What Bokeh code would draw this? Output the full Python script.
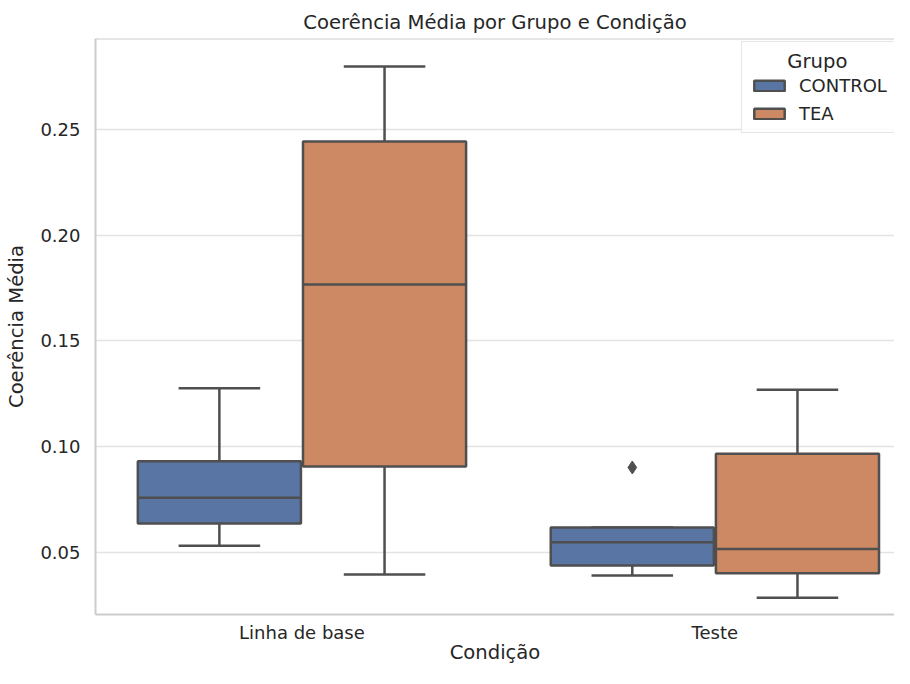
from bokeh.plotting import figure
from bokeh.models import (ColumnDataSource, FixedTicker, Range1d, Span,
                          NumeralTickFormatter, Legend, LegendItem)
from bokeh.embed import file_html
from bokeh.resources import INLINE

# ---- data ----
conditions = ["Linha de base", "Teste"]
groups = ["CONTROL", "TEA"]
colors = ["#5975A4", "#CC8963"]

whisker_low = {"CONTROL": [0.0532, 0.0391], "TEA": [0.0396, 0.0286]}
q1 = {"CONTROL": [0.0637, 0.0439], "TEA": [0.0907, 0.0402]}
median = {"CONTROL": [0.0759, 0.0549], "TEA": [0.1767, 0.0517]}
q3 = {"CONTROL": [0.0932, 0.0618], "TEA": [0.2443, 0.0967]}
whisker_high = {"CONTROL": [0.1277, 0.0618], "TEA": [0.2798, 0.1270]}
outlier_cond = ["Teste"]
outlier_group = ["CONTROL"]
outlier_val = [0.0902]

y_ticks = [0.05, 0.10, 0.15, 0.20, 0.25]

FONT = "DejaVu Sans"
TXT = "#262626"
EDGE = "#4f4f4f"
SPINE = "#cccccc"

y_start, y_end = 0.0207, 0.293

p = figure(width=894, height=668, output_backend="svg", toolbar_location=None,
           x_range=Range1d(-0.5, 1.435), y_range=Range1d(y_start, y_end),
           min_border_left=95, min_border_right=0, min_border_top=38,
           min_border_bottom=54)
p.title.text = "Coerência Média por Grupo e Condição"
p.title.align = "center"
p.title.offset = 13
p.title.text_font = FONT
p.title.text_font_size = "19.6px"
p.title.text_font_style = "normal"
p.title.text_color = TXT
p.title.standoff = 10

p.outline_line_color = None
p.xgrid.grid_line_color = None
p.ygrid.grid_line_color = "#e3e3e3"
p.ygrid.grid_line_width = 1.5
p.ygrid.ticker = FixedTicker(ticks=y_ticks)

# axes
p.yaxis.ticker = FixedTicker(ticks=y_ticks)
p.yaxis.formatter = NumeralTickFormatter(format="0.00")
p.xaxis.ticker = FixedTicker(ticks=list(range(len(conditions))))
p.xaxis.major_label_overrides = {i: c for i, c in enumerate(conditions)}
p.xaxis.axis_label = "Condição"
p.yaxis.axis_label = "Coerência Média"
for ax in (p.xaxis[0], p.yaxis[0]):
    ax.axis_line_color = SPINE
    ax.axis_line_width = 2
    ax.major_tick_line_color = None
    ax.minor_tick_line_color = None
    ax.major_tick_out = 0
    ax.major_tick_in = 0
    ax.minor_tick_out = 0
    ax.major_label_text_font = FONT
    ax.major_label_text_font_size = "18px"
    ax.major_label_text_color = TXT
    ax.axis_label_text_font = FONT
    ax.axis_label_text_font_size = "19.6px"
    ax.axis_label_text_font_style = "normal"
    ax.axis_label_text_color = TXT
p.xaxis.major_label_standoff = 7
p.xaxis.axis_label_standoff = -5
p.yaxis.major_label_standoff = 15
p.yaxis.axis_label_standoff = 9

# top spine
p.add_layout(Span(location=y_end, dimension="width", line_color=SPINE, line_width=2))

# ---- boxes ----
box_w = 0.395
offsets = [-0.2, 0.2]
items = []
for gi, g in enumerate(groups):
    xs = [i + offsets[gi] for i in range(len(conditions))]
    src = ColumnDataSource(dict(
        x=xs, x0=[x - box_w / 2 for x in xs], x1=[x + box_w / 2 for x in xs],
        c0=[x - box_w / 4 for x in xs], c1=[x + box_w / 4 for x in xs],
        lo=whisker_low[g], q1=q1[g], med=median[g], q3=q3[g], hi=whisker_high[g]))
    p.segment(x0="x", x1="x", y0="lo", y1="q1", source=src, line_color=EDGE, line_width=2.5)
    p.segment(x0="x", x1="x", y0="q3", y1="hi", source=src, line_color=EDGE, line_width=2.5)
    p.segment(x0="c0", x1="c1", y0="lo", y1="lo", source=src, line_color=EDGE, line_width=2.5)
    p.segment(x0="c0", x1="c1", y0="hi", y1="hi", source=src, line_color=EDGE, line_width=2.5)
    r = p.vbar(x="x", width=box_w, bottom="q1", top="q3", source=src,
               fill_color=colors[gi], line_color=EDGE, line_width=2.5)
    p.segment(x0="x0", x1="x1", y0="med", y1="med", source=src, line_color=EDGE, line_width=2.5)
    items.append(LegendItem(label=g, renderers=[r]))

ox = [conditions.index(c) + offsets[groups.index(g)] for c, g in zip(outlier_cond, outlier_group)]
p.scatter(x=ox, y=outlier_val, marker="diamond", size=13, fill_color=EDGE, line_color=EDGE)

legend_title = "\u00a0" * 6 + "Grupo"
legend = Legend(items=items, location=(646, 481), title=legend_title,
                title_text_font=FONT, title_text_font_size="19.6px", title_text_color=TXT,
                title_text_font_style="normal", title_standoff=2,
                label_text_font=FONT, label_text_font_size="18px", label_text_color=TXT,
                glyph_width=38, glyph_height=13, label_height=20, spacing=7,
                label_standoff=11, padding=8, margin=0,
                border_line_color=SPINE, border_line_width=1,
                background_fill_alpha=0.8)
p.add_layout(legend)

open("out.html", "w").write(file_html(p, INLINE))
